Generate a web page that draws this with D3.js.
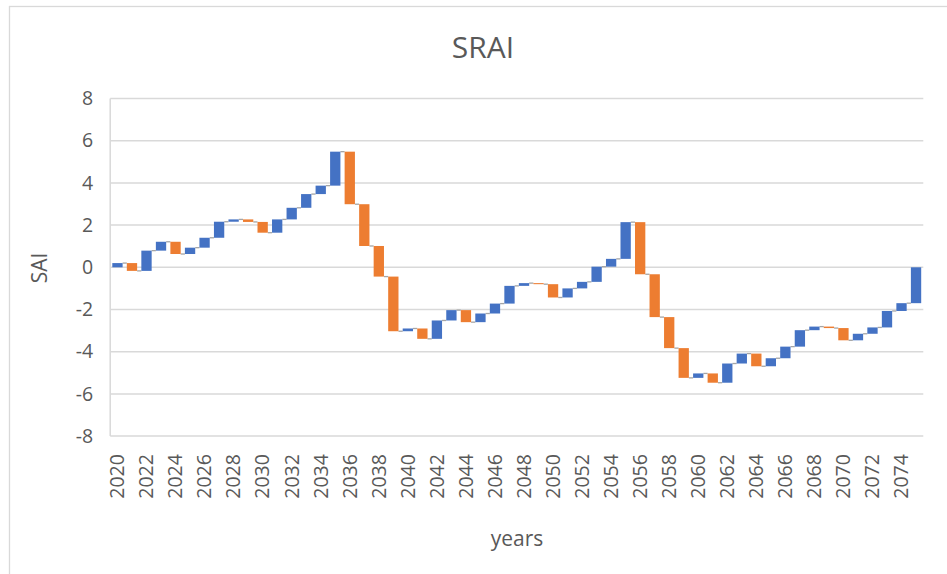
<!DOCTYPE html>
<html>
<head>
<meta charset="utf-8">
<script src="https://cdn.jsdelivr.net/npm/d3@7"></script>
<style>
  body { margin: 0; background: #fff; }
  svg { display: block; font-family: "Open Sans", sans-serif; }
</style>
</head>
<body>
<svg id="chart" width="947" height="574"></svg>
<script>
// year-on-year change of SAI (waterfall values)
const years = d3.range(2020, 2076);
const changes = [
  0.20, -0.37, 0.96, 0.42, -0.58, 0.30, 0.47, 0.76, 0.11, -0.12,
  -0.51, 0.63, 0.55, 0.65, 0.40, 1.61, -2.49, -1.98, -1.45, -2.59,
  0.13, -0.49, 0.87, 0.49, -0.57, 0.41, 0.47, 0.84, 0.13, -0.05,
  -0.63, 0.43, 0.31, 0.72, 0.37, 1.74, -2.47, -2.03, -1.47, -1.41,
  0.21, -0.44, 0.91, 0.47, -0.60, 0.38, 0.55, 0.78, 0.17, -0.07,
  -0.58, 0.31, 0.30, 0.78, 0.37, 1.70,
];
const yTicks = [-8, -6, -4, -2, 0, 2, 4, 6, 8];
const xTickYears = years.filter((y) => y % 2 === 0);

const svg = d3.select("#chart");
const textColor = "#595959";
const gridColor = "#d9d9d9";

const x = d3
  .scaleBand()
  .domain(years)
  .range([110.2, 923.3])
  .paddingInner(0.29)
  .paddingOuter(0.145);

const y = d3.scaleLinear().domain([-8, 8]).range([436.1, 98.5]);

const ends = Array.from(d3.cumsum(changes));
const bars = years.map((year, i) => ({
  year,
  start: i === 0 ? 0 : ends[i - 1],
  end: ends[i],
  up: changes[i] >= 0,
}));

// chart frame
svg
  .append("rect")
  .attr("x", 9.5)
  .attr("y", 6.5)
  .attr("width", 960)
  .attr("height", 600)
  .attr("fill", "none")
  .attr("stroke", gridColor)
  .attr("stroke-width", 1.3);

// gridlines
svg
  .append("g")
  .selectAll("line")
  .data(yTicks)
  .join("line")
  .attr("x1", 110.2)
  .attr("x2", 923.3)
  .attr("y1", (d) => y(d))
  .attr("y2", (d) => y(d))
  .attr("stroke", gridColor)
  .attr("stroke-width", 1.5);

svg
  .append("line")
  .attr("x1", 110.2)
  .attr("x2", 110.2)
  .attr("y1", y(8))
  .attr("y2", y(-8))
  .attr("stroke", gridColor)
  .attr("stroke-width", 1.5);

// y axis labels (plain hyphen for negatives, like Excel)
const yAxis = d3
  .axisLeft(y)
  .tickValues(yTicks)
  .tickFormat((d) => String(d))
  .tickSize(0)
  .tickPadding(17);
svg
  .append("g")
  .attr("transform", "translate(110.2,0)")
  .call(yAxis)
  .call((g) => g.select(".domain").remove())
  .selectAll("text")
  .attr("fill", textColor)
  .attr("font-size", 19.5)
  .attr("font-family", "Open Sans, sans-serif");

// x axis labels
const xAxis = d3.axisBottom(x).tickValues(xTickYears).tickSize(0);
svg
  .append("g")
  .attr("transform", "translate(0,436.1)")
  .call(xAxis)
  .call((g) => g.select(".domain").remove())
  .selectAll("text")
  .attr("fill", textColor)
  .attr("font-size", 19.5)
  .attr("font-family", "Open Sans, sans-serif")
  .attr("transform", "rotate(-90)")
  .attr("text-anchor", "end")
  .attr("x", -18)
  .attr("y", 0)
  .attr("dy", "0.35em");

// connectors
svg
  .append("g")
  .selectAll("line")
  .data(bars.slice(0, -1))
  .join("line")
  .attr("x1", (d) => x(d.year) + x.bandwidth())
  .attr("x2", (d) => x(d.year + 1))
  .attr("y1", (d) => y(d.end))
  .attr("y2", (d) => y(d.end))
  .attr("stroke", "#a5a5a5")
  .attr("stroke-width", 1.3);

// bars
svg
  .append("g")
  .selectAll("rect")
  .data(bars)
  .join("rect")
  .attr("x", (d) => x(d.year))
  .attr("width", x.bandwidth())
  .attr("y", (d) => y(Math.max(d.start, d.end)))
  .attr("height", (d) => Math.max(1, Math.abs(y(d.start) - y(d.end))))
  .attr("fill", (d) => (d.up ? "#4472c4" : "#ed7d31"));

// titles
svg
  .append("text")
  .text("SRAI")
  .attr("x", 483)
  .attr("y", 58)
  .attr("text-anchor", "middle")
  .attr("font-size", 30)
  .attr("fill", textColor);

svg
  .append("text")
  .text("SAI")
  .attr("transform", "translate(47,268) rotate(-90)")
  .attr("text-anchor", "middle")
  .attr("font-size", 21)
  .attr("fill", textColor);

svg
  .append("text")
  .text("years")
  .attr("x", 517)
  .attr("y", 546)
  .attr("text-anchor", "middle")
  .attr("font-size", 21)
  .attr("fill", textColor);
</script>
</body>
</html>
